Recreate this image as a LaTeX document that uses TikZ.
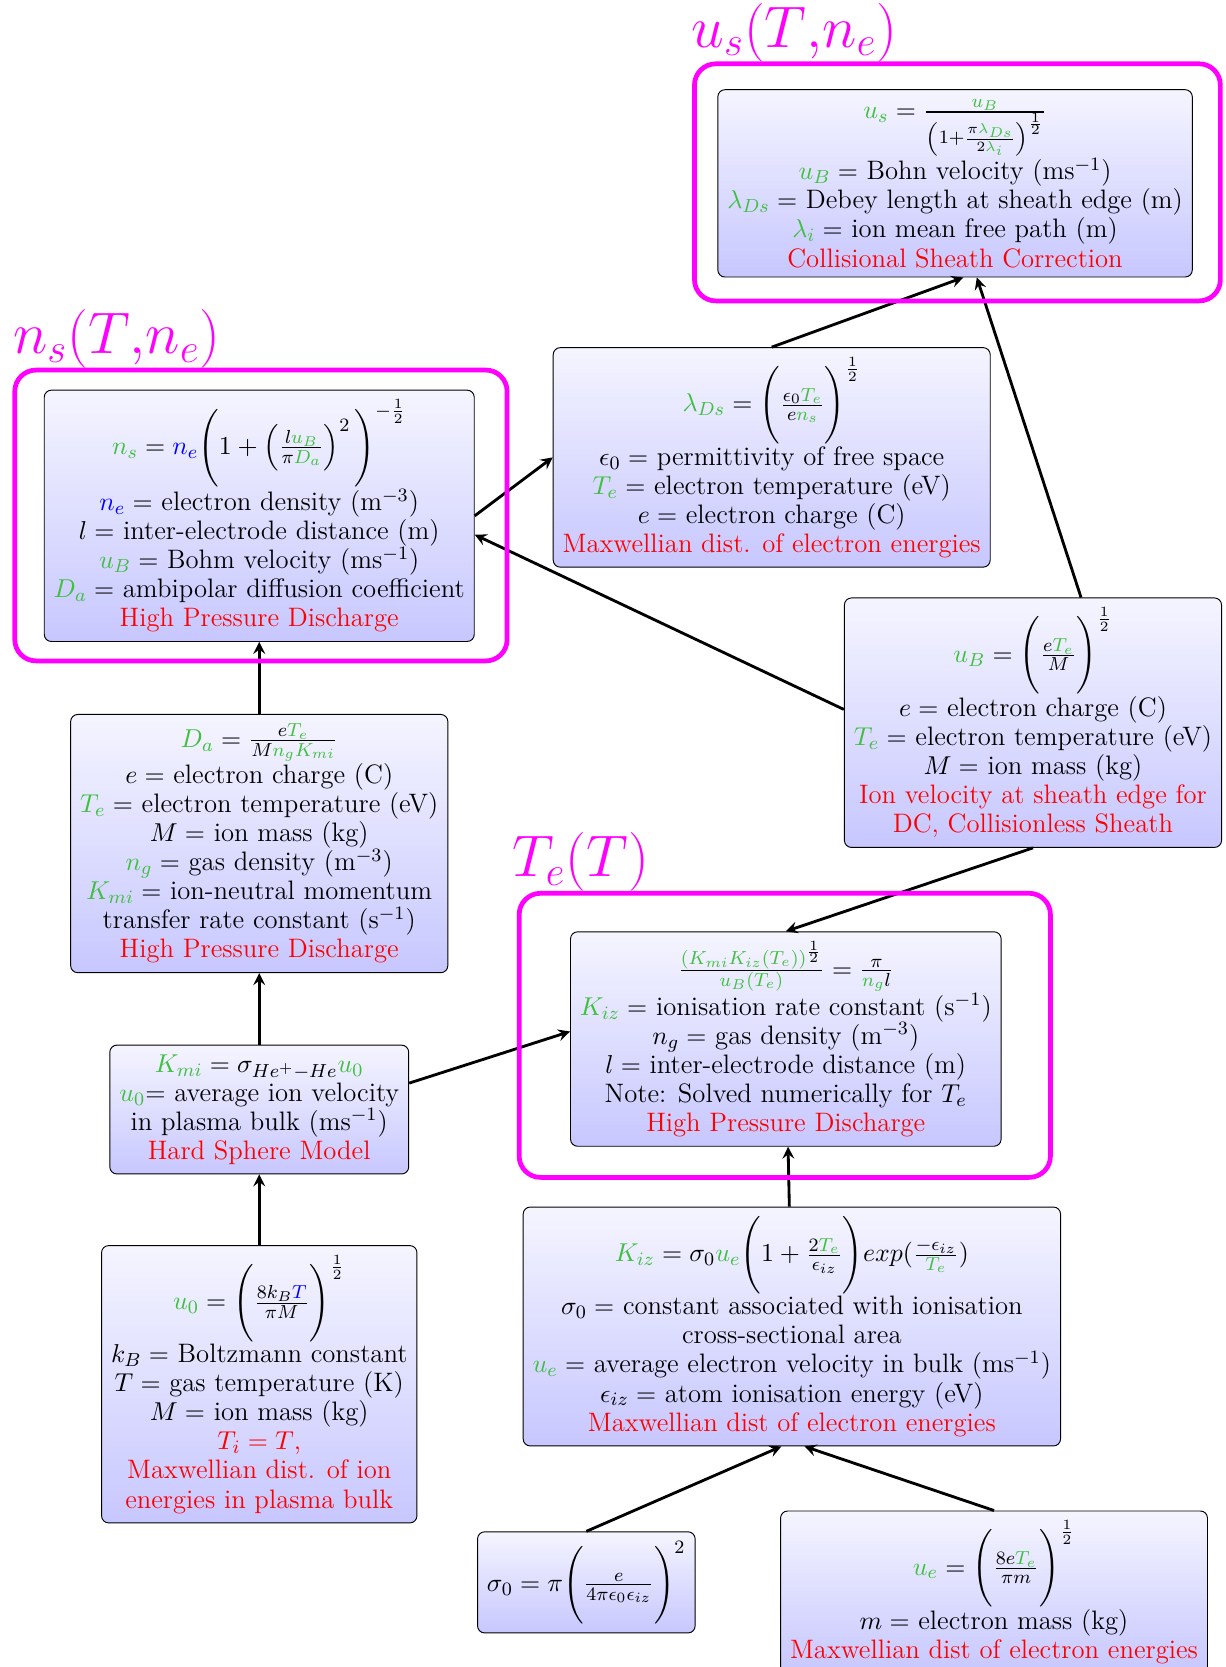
\documentclass[tikz,border=0pt]{standalone}
\usepackage{amsmath}
\usetikzlibrary{arrows}
\definecolor{eqgreen}{rgb}{0.25,0.75,0.25}
\definecolor{grpmag}{rgb}{1,0,1}

\begin{document}
\begin{tikzpicture}[style=very thick,>=stealth]
	\newcommand{\gv}[1]{{\color{eqgreen}#1}}
	\newcommand{\bv}[1]{{\color{blue}#1}}
	\useasboundingbox (0,0) rectangle (18.24,-24.82);
	\begin{scope}[align=center]
		\tikzstyle{every node}=[draw,thin,rounded corners=3pt,top color=blue!4,bottom color=blue!22,inner sep=4pt,font=\fontsize{11.3}{12.3}\selectfont]
		\node (u_s) at (14.22,-2.73) {$\gv{u_s} = \frac{\gv{u_B}}{\left(1+\frac{\pi\gv{\lambda_{Ds}}}{2\gv{\lambda_i}}\right)^{\frac{1}{2}}}$\\
			$\gv{u_B} =$ Bohn velocity (ms$^{-1}$)\\
			$\gv{\lambda_{Ds}} =$ Debey length at sheath edge (m)\\
			$\gv{\lambda_i} =$ ion mean free path (m)\\
			\textcolor{red}{Collisional Sheath Correction}};
		\node (n_s) at (3.86,-7.68) {$\gv{n_s} = \bv{n_e}\Bigg(1+\left(\frac{l\gv{u_B}}{\pi\gv{D_a}}\right)^2\Bigg)^{-\frac{1}{2}}$\\
			$\bv{n_e} =$ electron density (m$^{-3}$)\\
			$l =$ inter-electrode distance (m)\\
			$\gv{u_B} =$ Bohm velocity (ms$^{-1}$)\\
			$\gv{D_a} =$ ambipolar diffusion coefficient\\
			\textcolor{red}{High Pressure Discharge}};
		\node (l_Ds) at (11.49,-6.81) {$\gv{\lambda_{Ds}} = \Bigg(\frac{\epsilon_0\gv{T_e}}{e\gv{n_s}}\Bigg)^{\frac{1}{2}}$\\
			$\epsilon_0 =$ permittivity of free space\\
			$\gv{T_e} =$ electron temperature (eV)\\
			$e =$ electron charge (C)\\
			\textcolor{red}{Maxwellian dist. of electron energies}};
		\node (u_B) at (15.38,-10.76) {$\gv{u_B} = \Bigg(\frac{e\gv{T_e}}{M}\Bigg)^{\frac{1}{2}}$\\
			$e =$ electron charge (C)\\
			$\gv{T_e} =$ electron temperature (eV)\\
			$M =$ ion mass (kg)\\
			\textcolor{red}{Ion velocity at sheath edge for}\\
			\textcolor{red}{DC, Collisionless Sheath}};
		\node (D_a) at (3.86,-12.56) {$\gv{D_a} = \frac{e\gv{T_e}}{M\gv{n_g}\gv{K_{mi}}}$\\
			$e =$ electron charge (C)\\
			$\gv{T_e} =$ electron temperature (eV)\\
			$M =$ ion mass (kg)\\
			$\gv{n_g} =$ gas density (m$^{-3}$)\\
			$\gv{K_{mi}} =$ ion-neutral momentum\\
			transfer rate constant (s$^{-1}$)\\
			\textcolor{red}{High Pressure Discharge}};
		\node (T_e) at (11.70,-15.47) {$\frac{\gv{(K_{mi}K_{iz}(T_e))}^{\frac{1}{2}}}{\gv{u_B(T_e)}} = \frac{\pi}{\gv{n_g}l}$\\
			$\gv{K_{iz}} =$ ionisation rate constant (s$^{-1}$)\\
			$n_g =$ gas density (m$^{-3}$)\\
			$l =$ inter-electrode distance (m)\\
			Note: Solved numerically for $T_e$\\
			\textcolor{red}{High Pressure Discharge}};
		\node (K_mi) at (3.86,-16.52) {$\gv{K_{mi}} = \sigma_{He^+-He}\gv{u_0}$\\
			$\gv{u_0}$= average ion velocity\\
			in plasma bulk (ms$^{-1}$)\\
			\textcolor{red}{Hard Sphere Model}};
		\node (K_iz) at (11.79,-19.75) {$\gv{K_{iz}} = \sigma_0\gv{u_e}\Bigg(1+\frac{2\gv{T_e}}{\epsilon_{iz}}\Bigg)exp(\frac{-\epsilon_{iz}}{\gv{T_e}})$\\
			$\sigma_0 =$ constant associated with ionisation\\
			cross-sectional area\\
			$\gv{u_e} =$ average electron velocity in bulk (ms$^{-1}$)\\
			$\epsilon_{iz} =$ atom ionisation energy (eV)\\
			\textcolor{red}{Maxwellian dist of electron energies}};
		\node (u_0) at (3.86,-20.61) {$\gv{u_0} = \Bigg(\frac{8k_B\bv{T}}{\pi M}\Bigg)^{\frac{1}{2}}$\\
			$k_B =$ Boltzmann constant\\
			$T =$ gas temperature (K)\\
			$M =$ ion mass (kg)\\
			\textcolor{red}{$T_i = T$,}\\
			\textcolor{red}{Maxwellian dist. of ion}\\
			\textcolor{red}{energies in plasma bulk}};
		\node (s_0) at (8.73,-23.56) {$\sigma_0 = \pi\Bigg(\frac{e}{4\pi\epsilon_0\epsilon_{iz}}\Bigg)^2$};
		\node[anchor=north] (u_e) at (14.80,-22.49) {$\gv{u_e} = \Bigg(\frac{8e\gv{T_e}}{\pi m}\Bigg)^{\frac{1}{2}}$\\
			$m =$ electron mass (kg)\\
			\textcolor{red}{Maxwellian dist of electron energies}};
		\draw [->] (l_Ds.north) -- (u_s.-85);
		\draw [->] (u_B.69) -- (u_s.-77);
		\draw [->] (n_s.east) -- (l_Ds.west);
		\draw [->] (u_B.176) -- (n_s.-5);
		\draw [->] (D_a) -- (n_s);
		\draw [->] (K_mi) -- (D_a);
		\draw [->] (K_mi.10) -- (T_e.178);
		\draw [->] (u_B.south) -- (T_e.north);
		\draw [->] (K_iz) -- (T_e);
		\draw [->] (u_0) -- (K_mi);
		\draw [->] (s_0.north) -- (K_iz.-95);
		\draw [->] (u_e.north) -- (K_iz.-84);
	\end{scope}
	% groups
	\begin{scope}[grpmag,line width=2pt,rounded corners=9pt]
		\draw (10.34,-0.95) rectangle (18.17,-4.48);
		\draw (0.22,-5.51) rectangle (7.55,-9.84);
		\draw (7.73,-13.30) rectangle (15.64,-17.53);
		\node[anchor=base west,inner sep=0,font=\fontsize{23.6}{28}\selectfont] (g_us) at (10.26,-0.70) {$u_s(T{,}n_e)$};
		\node[anchor=base west,inner sep=0,font=\fontsize{23.6}{28}\selectfont] (g_ns) at (0.16,-5.26) {$n_s(T{,}n_e)$};
		\node[anchor=base west,inner sep=0,font=\fontsize{23.6}{28}\selectfont] (g_Te) at (7.59,-13.05) {$T_e(T)$};
	\end{scope}
\end{tikzpicture}
\end{document}
